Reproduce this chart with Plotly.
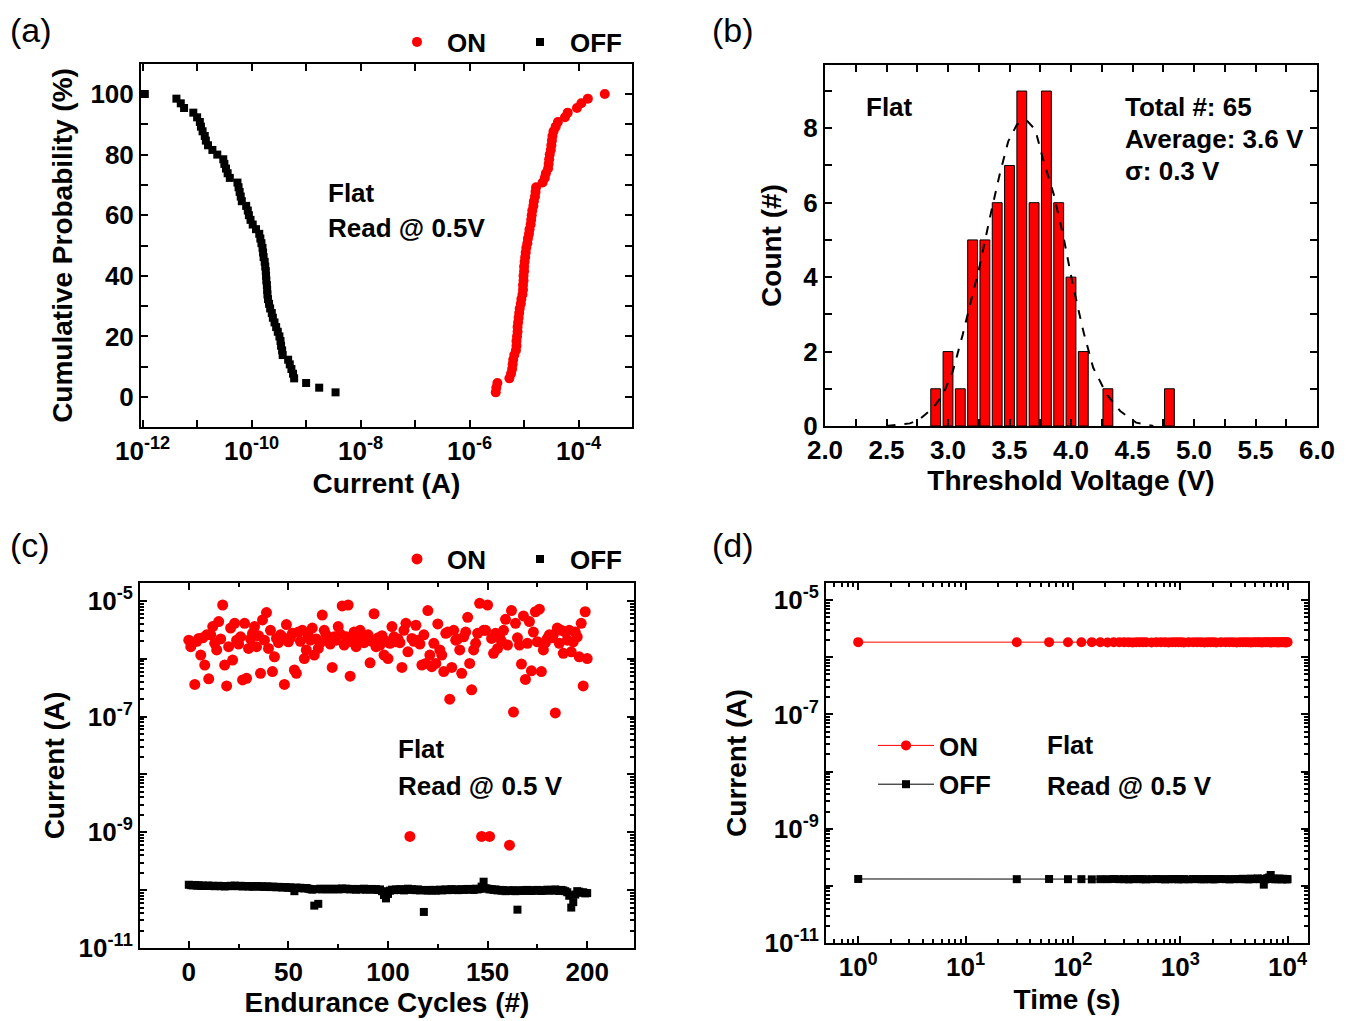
import plotly.graph_objects as go

W, H = 1354, 1021

# ---- (a) cumulative distribution of read current, log10(I / A) ----
on_a_log = [-5.52, -5.51, -5.49, -5.27, -5.24, -5.22, -5.21, -5.20, -5.18, -5.15,
            -5.14, -5.14, -5.13, -5.12, -5.12, -5.11, -5.10, -5.09, -5.08, -5.06,
            -5.05, -5.03, -5.02, -5.02, -5.01, -5.01, -5.00, -5.00, -4.99, -4.98,
            -4.97, -4.96, -4.94, -4.93, -4.91, -4.90, -4.88, -4.87, -4.86, -4.85,
            -4.83, -4.82, -4.80, -4.79, -4.78, -4.66, -4.62, -4.60, -4.56, -4.55,
            -4.54, -4.53, -4.51, -4.50, -4.49, -4.48, -4.46, -4.42, -4.38, -4.25,
            -4.20, -4.03, -3.95, -3.83, -3.52]
off_a_log = [-8.46, -8.76, -9.00, -9.22, -9.24, -9.27, -9.30, -9.33, -9.43, -9.44,
             -9.46, -9.47, -9.49, -9.52, -9.55, -9.58, -9.61, -9.63, -9.66, -9.68,
             -9.70, -9.71, -9.715, -9.72, -9.73, -9.735, -9.74, -9.75, -9.76, -9.78,
             -9.79, -9.80, -9.82, -9.84, -9.86, -9.92, -9.98, -10.02, -10.05, -10.07,
             -10.10, -10.18, -10.20, -10.22, -10.24, -10.26, -10.40, -10.44, -10.47, -10.50,
             -10.52, -10.63, -10.72, -10.80, -10.84, -10.86, -10.90, -10.93, -10.95, -11.00,
             -11.07, -11.24, -11.30, -11.38, -11.96]

# ---- (b) threshold voltage histogram ----
vth_bins = [2.9, 3.0, 3.1, 3.2, 3.3, 3.4, 3.5, 3.6, 3.7, 3.8, 3.9, 4.0, 4.1, 4.3, 4.8]
vth_count = [1, 2, 1, 5, 5, 6, 7, 9, 6, 9, 6, 4, 2, 1, 1]
fit_v = [2.50, 2.69, 2.77, 2.88, 2.96, 3.04, 3.12, 3.19, 3.26, 3.34, 3.42, 3.49, 3.56,
         3.64, 3.71, 3.77, 3.86, 3.94, 4.02, 4.10, 4.18, 4.29, 4.40, 4.53, 4.67]
fit_count = [0.0, 0.07, 0.18, 0.49, 0.85, 1.48, 2.46, 3.36, 4.34, 5.59, 6.76, 7.65, 8.10,
             8.21, 7.96, 7.20, 6.22, 5.06, 3.71, 2.55, 1.57, 0.85, 0.40, 0.09, 0.0]

# ---- (c) endurance, one read per cycle 0..200 ----
cycles = list(range(201))
on_c_uA = [2.1, 1.62, 1.9, 0.36, 2.0, 2.25, 1.16, 2.3, 0.78, 2.6,
           0.45, 2.6, 3.6, 1.85, 1.42, 4.4, 2.2, 8.5, 0.78, 0.34,
           1.62, 3.4, 0.95, 4.1, 2.1, 1.8, 2.4, 0.43, 4.1, 0.46,
           1.51, 2.2, 2.75, 3.6, 1.62, 2.5, 0.56, 4.7, 2.1, 6.3,
           1.51, 3.1, 0.60, 1.08, 2.25, 1.9, 2.6, 2.4, 0.36, 3.9,
           1.97, 2.3, 2.75, 0.64, 0.56, 2.9, 2.0, 3.1, 1.01, 1.42,
           2.5, 2.1, 3.4, 1.16, 2.2, 1.51, 1.9, 5.7, 3.1, 2.6,
           2.25, 1.8, 0.71, 2.4, 2.1, 3.6, 2.7, 8.2, 1.73, 2.4,
           8.5, 0.50, 1.97, 2.9, 1.62, 2.4, 3.1, 2.1, 1.9, 2.25,
           2.6, 0.85, 2.0, 6.0, 1.62, 2.3, 1.73, 2.5, 1.16, 2.0,
           1.01, 1.85, 3.6, 2.4, 1.97, 2.2, 1.9, 0.71, 3.1, 4.1,
           1.32, 0.00085, 2.25, 2.0, 3.8, 2.1, 1.8, 0.78, 2.6, 0.83,
           6.8, 1.16, 0.73, 1.85, 0.83, 4.0, 1.42, 1.16, 0.60, 2.75,
           2.9, 0.20, 0.71, 3.1, 2.1, 2.2, 1.42, 0.56, 2.4, 2.9,
           5.2, 0.83, 0.29, 1.42, 1.85, 2.75, 9.1, 0.00085, 3.1, 3.1,
           8.5, 0.00085, 2.25, 1.24, 2.75, 1.51, 2.4, 2.0, 3.1, 4.8,
           1.73, 0.0006, 6.8, 0.12, 4.1, 2.3, 1.73, 0.81, 5.5, 0.44,
           1.85, 4.4, 0.62, 2.9, 6.5, 1.97, 7.2, 0.60, 1.42, 1.9,
           2.25, 2.6, 2.3, 2.6, 0.116, 3.4, 1.85, 3.1, 1.24, 2.9,
           2.1, 3.1, 1.32, 1.97, 2.9, 2.4, 1.08, 4.1, 0.34, 6.5,
           1.01]
off_c_10pA = [12.4, 12.2, 12.1, 12.3, 12.0, 12.1, 11.9, 12.0, 11.8, 11.9,
              12.0, 11.8, 11.9, 11.7, 11.8, 11.9, 11.7, 11.8, 11.6, 11.8,
              11.7, 11.9, 11.8, 12.0, 11.7, 11.8, 11.9, 11.6, 11.7, 11.8,
              11.6, 11.7, 11.5, 11.6, 11.8, 11.7, 11.5, 11.6, 11.4, 11.6,
              11.5, 11.3, 11.5, 11.4, 11.2, 11.4, 11.3, 11.1, 11.3, 11.2,
              11.0, 11.2, 10.9, 9.6, 11.1, 10.8, 11.0, 10.9, 10.7, 10.9,
              10.6, 10.4, 10.2, 5.4, 10.4, 5.8, 10.6, 10.3, 10.5, 10.4,
              10.6, 10.3, 10.5, 10.4, 10.6, 10.3, 10.5, 10.7, 10.4, 10.6,
              10.5, 10.3, 10.5, 10.4, 10.2, 10.5, 10.3, 10.4, 10.6, 10.2,
              10.4, 10.3, 10.5, 10.2, 10.4, 10.1, 10.3, 9.6, 8.2, 7.2,
              8.6, 9.8, 10.2, 10.0, 10.3, 10.1, 10.4, 10.2, 9.9, 10.3,
              10.6, 10.1, 10.4, 10.2, 10.0, 10.3, 9.9, 10.1, 4.2, 10.0,
              9.8, 10.1, 9.9, 10.1, 9.8, 10.0, 10.2, 9.9, 10.1, 10.3,
              10.0, 10.2, 10.4, 10.1, 10.3, 10.0, 10.2, 10.4, 10.1, 10.3,
              10.5, 10.2, 10.4, 10.1, 10.6, 10.3, 10.5, 11.5, 14.0, 10.8,
              10.6, 10.3, 10.4, 10.1, 10.3, 9.9, 10.1, 9.8, 10.0, 9.6,
              9.9, 9.7, 9.8, 10.0, 9.6, 4.6, 9.8, 10.0, 9.7, 9.9,
              10.1, 9.8, 9.7, 10.0, 9.8, 10.1, 9.9, 9.7, 10.0, 9.8,
              10.2, 9.9, 10.1, 9.8, 10.3, 10.0, 9.7, 10.1, 9.9, 9.6,
              9.2, 8.0, 5.0, 6.2, 8.4, 9.6, 9.4, 9.0, 9.2, 8.8,
              8.9]

# ---- (d) retention ----
time_s = [1, 30, 60, 90, 120, 150, 180, 210, 240, 270,
          300, 330, 360, 390, 420, 450, 480, 540, 600, 660,
          720, 780, 840, 900, 960, 1020, 1080, 1200, 1320, 1440,
          1560, 1680, 1800, 1920, 2040, 2160, 2400, 2640, 2880, 3120,
          3360, 3600, 3840, 4080, 4320, 4560, 4800, 5040, 5280, 5520,
          5760, 6000, 6240, 6480, 6720, 6960, 7200, 7440, 7680, 7920,
          8160, 8400, 8640, 8880, 9120, 9360, 9600, 9840, 9990]
on_d_uA = [1.84, 1.83, 1.84, 1.83, 1.83, 1.84, 1.83, 1.82, 1.83, 1.84,
           1.83, 1.83, 1.82, 1.83, 1.84, 1.83, 1.83, 1.82, 1.83, 1.84,
           1.83, 1.82, 1.83, 1.83, 1.84, 1.83, 1.82, 1.83, 1.84, 1.83,
           1.83, 1.82, 1.83, 1.84, 1.83, 1.82, 1.83, 1.83, 1.84, 1.83,
           1.82, 1.83, 1.83, 1.84, 1.83, 1.82, 1.83, 1.84, 1.83, 1.83,
           1.82, 1.83, 1.84, 1.83, 1.83, 1.82, 1.83, 1.84, 1.83, 1.83,
           1.82, 1.84, 1.83, 1.83, 1.84, 1.83, 1.82, 1.83, 1.84]
off_d_100pA = [1.32, 1.31, 1.32, 1.31, 1.31, 1.30, 1.31, 1.31, 1.32, 1.31,
               1.31, 1.30, 1.31, 1.32, 1.31, 1.31, 1.30, 1.31, 1.32, 1.31,
               1.30, 1.31, 1.31, 1.32, 1.30, 1.31, 1.31, 1.30, 1.32, 1.31,
               1.31, 1.30, 1.32, 1.31, 1.30, 1.31, 1.32, 1.31, 1.30, 1.31,
               1.32, 1.31, 1.33, 1.31, 1.30, 1.34, 1.31, 1.32, 1.35, 1.31,
               1.33, 1.05, 1.30, 1.36, 1.40, 1.55, 1.32, 1.34, 1.30, 1.33,
               1.31, 1.34, 1.32, 1.30, 1.33, 1.31, 1.32, 1.30, 1.31]


def px(x):
    return x / W


def py(y):
    return 1 - y / H


def pow_label(e):
    return f"10<sup>{e}</sup>"


n_a = len(on_a_log)
prob_on = [100.0 * (k + 1) / n_a for k in range(n_a)]
prob_off = [100.0 * (k + 1) / len(off_a_log) for k in range(len(off_a_log))]

TICKFONT = dict(family="Liberation Sans", size=26, color="black", weight="bold")
TITLEFONT = dict(family="Liberation Sans", size=28, color="black", weight="bold")
LEGFONT = dict(family="Liberation Sans", size=26, color="black", weight="bold")

fig = go.Figure()

# (a)
fig.add_trace(go.Scatter(x=[10 ** v for v in on_a_log], y=prob_on, mode="markers", name="ON",
                         marker=dict(color="#ff0000", size=10), xaxis="x", yaxis="y", legend="legend"))
fig.add_trace(go.Scatter(x=[10 ** v for v in off_a_log], y=prob_off, mode="markers", name="OFF",
                         marker=dict(color="black", size=8, symbol="square"), xaxis="x", yaxis="y",
                         legend="legend"))

# (b)
fig.add_trace(go.Bar(x=vth_bins, y=vth_count, width=0.08, showlegend=False,
                     marker=dict(color="#ff0000", line=dict(color="black", width=1)),
                     xaxis="x2", yaxis="y2"))
fig.add_trace(go.Scatter(x=fit_v, y=fit_count, mode="lines", showlegend=False,
                         line=dict(color="black", width=2, dash="dash"), xaxis="x2", yaxis="y2"))

# (c)
fig.add_trace(go.Scatter(x=cycles, y=[v * 1e-6 for v in on_c_uA], mode="markers", name="ON",
                         marker=dict(color="#ff0000", size=11), xaxis="x3", yaxis="y3", legend="legend2"))
fig.add_trace(go.Scatter(x=cycles, y=[v * 1e-11 for v in off_c_10pA], mode="markers", name="OFF",
                         marker=dict(color="black", size=8, symbol="square"), xaxis="x3", yaxis="y3",
                         legend="legend2"))

# (d)
fig.add_trace(go.Scatter(x=time_s, y=[v * 1e-6 for v in on_d_uA], mode="lines+markers", name="ON",
                         line=dict(color="#ff0000", width=1), marker=dict(color="#ff0000", size=10),
                         xaxis="x4", yaxis="y4", legend="legend3", legendgroup="on"))
fig.add_trace(go.Scatter(x=time_s, y=[v * 1e-10 for v in off_d_100pA], mode="lines+markers", name="OFF",
                         line=dict(color="black", width=1), marker=dict(color="black", size=8, symbol="square"),
                         xaxis="x4", yaxis="y4", legend="legend3", legendgroup="off"))

axis_style = dict(showline=True, linecolor="black", linewidth=2, mirror="allticks", ticks="inside",
                  ticklen=7, tickwidth=2, tickcolor="black", showgrid=False, zeroline=False,
                  automargin=False, tickfont=TICKFONT, title_font=TITLEFONT)
minor_style = dict(ticks="inside", ticklen=4, tickwidth=1.5, tickcolor="black", showgrid=False)

dec_a = list(range(-12, -3))
dec_cd = list(range(-11, -4))
log_minor_cd = [m * 10.0 ** e for e in range(-11, -5) for m in range(2, 10)]
log_minor_t = [m * 10.0 ** e for e in range(-1, 4) for m in range(2, 10)]

fig.update_layout(
    width=W, height=H, margin=dict(l=0, r=0, t=0, b=0, autoexpand=False),
    paper_bgcolor="white", plot_bgcolor="white",
    font=dict(family="Liberation Sans", color="black", weight="bold"),
    xaxis=dict(axis_style, type="log", domain=[px(141), px(632)], anchor="y", range=[-12.03, -3.02],
               tickvals=[10.0 ** e for e in dec_a],
               ticktext=[pow_label(e) if e % 2 == 0 else "" for e in dec_a],
               title=dict(text="Current (A)", standoff=8)),
    yaxis=dict(axis_style, domain=[py(427), py(64)], anchor="x", range=[-9.9, 109.9],
               tickvals=list(range(0, 101, 10)),
               ticktext=[str(v) if v % 20 == 0 else "" for v in range(0, 101, 10)],
               title=dict(text="Cumulative Probability (%)", standoff=10)),
    xaxis2=dict(axis_style, domain=[px(825), px(1317)], anchor="y2", range=[2.0, 6.0],
                tickvals=[2 + 0.25 * k for k in range(17)],
                ticktext=[f"{2 + 0.25 * k:.1f}" if k % 2 == 0 else "" for k in range(17)],
                title=dict(text="Threshold Voltage (V)", standoff=4)),
    yaxis2=dict(axis_style, domain=[py(426), py(65)], anchor="x2", range=[0, 9.7],
                tickvals=list(range(10)),
                ticktext=[str(v) if v % 2 == 0 else "" for v in range(10)],
                title=dict(text="Count (#)", standoff=14)),
    xaxis3=dict(axis_style, domain=[px(140), px(634)], anchor="y3", range=[-24.5, 223.5],
                tickvals=[0, 50, 100, 150, 200],
                minor=dict(minor_style, tickvals=[25, 75, 125, 175]),
                title=dict(text="Endurance Cycles (#)", standoff=6)),
    yaxis3=dict(axis_style, type="log", domain=[py(948), py(583)], anchor="x3", range=[-11, -4.69],
                tickvals=[10.0 ** e for e in dec_cd],
                ticktext=[pow_label(e) if e % 2 != 0 else "" for e in dec_cd],
                minor=dict(minor_style, tickvals=log_minor_cd),
                title=dict(text="Current (A)", standoff=6)),
    xaxis4=dict(axis_style, type="log", domain=[px(826), px(1308)], anchor="y4", range=[-0.3, 4.19],
                tickvals=[10.0 ** e for e in range(5)],
                ticktext=[pow_label(e) for e in range(5)],
                minor=dict(minor_style, tickvals=log_minor_t),
                title=dict(text="Time (s)", standoff=8)),
    yaxis4=dict(axis_style, type="log", domain=[py(943), py(583)], anchor="x4", range=[-11, -4.70],
                tickvals=[10.0 ** e for e in dec_cd],
                ticktext=[pow_label(e) if e % 2 != 0 else "" for e in dec_cd],
                minor=dict(minor_style, tickvals=log_minor_cd),
                title=dict(text="Current (A)", standoff=10)),
    legend=dict(orientation="h", x=px(387), y=py(42), xanchor="left", yanchor="middle",
                font=LEGFONT, bgcolor="rgba(0,0,0,0)", entrywidth=58, itemwidth=50),
    legend2=dict(orientation="h", x=px(387), y=py(559), xanchor="left", yanchor="middle",
                 font=LEGFONT, bgcolor="rgba(0,0,0,0)", entrywidth=58, itemwidth=50),
    legend3=dict(orientation="v", x=px(873), y=py(765), xanchor="left", yanchor="middle",
                 font=LEGFONT, bgcolor="rgba(0,0,0,0)", tracegroupgap=2, itemwidth=56),
)

notes = [
    ("(a)", 8, 30, 34, "normal"), ("(b)", 710, 30, 34, "normal"),
    ("(c)", 8, 545, 34, "normal"), ("(d)", 710, 545, 34, "normal"),
    ("Flat", 326, 193, 26, "bold"), ("Read @ 0.5V", 326, 228, 26, "bold"),
    ("Flat", 864, 107, 26, "bold"), ("Total #: 65", 1123, 107, 26, "bold"),
    ("Average: 3.6 V", 1123, 139, 26, "bold"), ("σ: 0.3 V", 1123, 171, 26, "bold"),
    ("Flat", 396, 749, 26, "bold"), ("Read @ 0.5 V", 396, 786, 26, "bold"),
    ("Flat", 1045, 745, 26, "bold"), ("Read @ 0.5 V", 1045, 786, 26, "bold"),
]
for text, x, y, size, weight in notes:
    fig.add_annotation(text=text, x=px(x), y=py(y), xref="paper", yref="paper", xanchor="left",
                       yanchor="middle", showarrow=False,
                       font=dict(family="Liberation Sans", size=size, color="black", weight=weight))

# drop the page's default 8px body margin so the figure sits at the window's corner
fig.write_html("out.html", config={"displayModeBar": False},
               post_script="document.body.style.margin = '0';")
